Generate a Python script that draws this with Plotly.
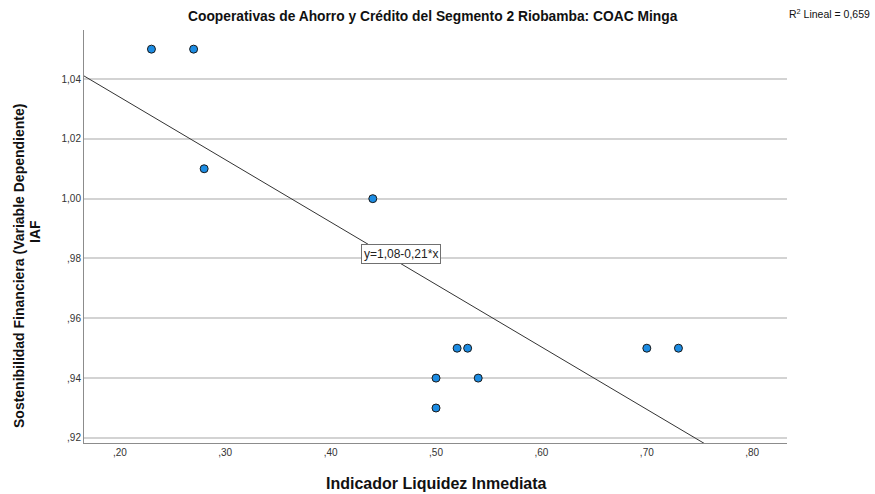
import numpy as np
import plotly.graph_objects as go

# Data
liquidez = [0.23, 0.27, 0.28, 0.44, 0.52, 0.53, 0.50, 0.54, 0.50, 0.70, 0.73]
sostenibilidad = [1.05, 1.05, 1.01, 1.00, 0.95, 0.95, 0.94, 0.94, 0.93, 0.95, 0.95]

# Regression line as drawn (y = 1,08 - 0,21*x)
fit_intercept = 1.0757
fit_slope = -0.2088
r2_text = "R<sup>2</sup> Lineal = 0,659"
eq_text = "y=1,08-0,21*x"

x_ticks = [0.20, 0.30, 0.40, 0.50, 0.60, 0.70, 0.80]
x_ticktext = [",20", ",30", ",40", ",50", ",60", ",70", ",80"]
y_ticks = [0.92, 0.94, 0.96, 0.98, 1.00, 1.02, 1.04]
y_ticktext = [",92", ",94", ",96", ",98", "1,00", "1,02", "1,04"]

x_range = [0.166, 0.833]
y_range = [0.9183, 1.0564]

W, H = 875, 494
ML, MR, MT, MB = 84, 88, 30, 51
PW, PH = W - ML - MR, H - MT - MB


def px(xp):
    return (xp - ML) / PW


def py(yp):
    return (H - MB - yp) / PH


FONT = "Liberation Sans, Arial, sans-serif"

fig = go.Figure()

xl = np.array(x_range)
fig.add_trace(go.Scatter(
    x=xl, y=fit_intercept + fit_slope * xl, mode="lines",
    line=dict(color="#333333", width=1), hoverinfo="skip", showlegend=False))

fig.add_trace(go.Scatter(
    x=liquidez, y=sostenibilidad, mode="markers",
    marker=dict(size=8, color="#1c8ce3", line=dict(color="#1a1a1a", width=1)),
    showlegend=False, cliponaxis=False))

fig.update_layout(
    width=W, height=H,
    margin=dict(l=ML, r=MR, t=MT, b=MB),
    paper_bgcolor="white", plot_bgcolor="white",
    font=dict(family=FONT, size=10, color="#222222"),
    showlegend=False,
    xaxis=dict(range=x_range, tickvals=x_ticks, ticktext=x_ticktext,
               showgrid=False, zeroline=False, showline=True,
               linecolor="#8c8c8c", linewidth=1, ticks="",
               tickfont=dict(size=10, color="#333333")),
    yaxis=dict(range=y_range, tickvals=y_ticks, ticktext=y_ticktext,
               showgrid=True, gridcolor="#d3d3d3", gridwidth=1.5,
               zeroline=False, showline=True,
               linecolor="#8c8c8c", linewidth=1, ticks="",
               tickfont=dict(size=10, color="#333333")),
)

annotations = [
    dict(text="<b>Cooperativas de Ahorro y Crédito del Segmento 2 Riobamba: COAC Minga</b>",
         x=px(433), y=py(17), xref="paper", yref="paper", showarrow=False,
         xanchor="center", yanchor="middle", font=dict(size=13.8, color="#111111")),
    dict(text=r2_text, x=px(872), y=py(13), xref="paper", yref="paper",
         showarrow=False, xanchor="right", yanchor="middle",
         font=dict(size=10.5, color="#111111")),
    dict(text=eq_text, x=0.467, y=0.9815, xref="x", yref="y", showarrow=False,
         xanchor="center", yanchor="middle", bgcolor="white",
         bordercolor="#707070", borderwidth=1, borderpad=2,
         font=dict(size=12, color="#222222")),
    dict(text="<b>Indicador Liquidez Inmediata</b>", x=px(436), y=py(484),
         xref="paper", yref="paper", showarrow=False,
         xanchor="center", yanchor="middle", font=dict(size=16, color="#111111")),
    dict(text="<b>Sostenibilidad Financiera (Variable Dependiente)</b>", x=px(19), y=py(266),
         xref="paper", yref="paper", showarrow=False, textangle=-90,
         xanchor="center", yanchor="middle", font=dict(size=14, color="#111111")),
    dict(text="<b>IAF</b>", x=px(35), y=py(232), xref="paper", yref="paper",
         showarrow=False, textangle=-90, xanchor="center", yanchor="middle",
         font=dict(size=14, color="#111111")),
]
fig.update_layout(annotations=annotations)

fig.write_html("out.html")
